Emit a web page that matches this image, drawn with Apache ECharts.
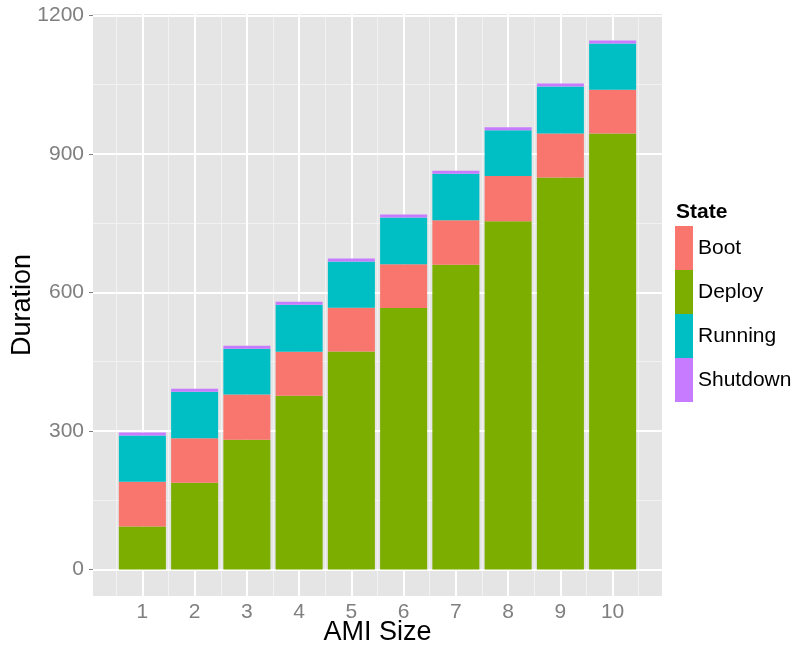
<!DOCTYPE html>
<html>
<head>
<meta charset="utf-8">
<script src="https://cdn.jsdelivr.net/npm/echarts@6/dist/echarts.min.js"></script>
<style>html,body{margin:0;padding:0;background:#fff;}#chart{width:795px;height:647px;}</style>
</head>
<body>
<div id="chart"></div>
<script>
// ---- data ----
var categories = [1, 2, 3, 4, 5, 6, 7, 8, 9, 10];
var deploy   = [93, 188, 281, 376.5, 472, 566, 660, 754, 849, 944];
var boot     = [97, 96, 98, 95, 95, 95, 96, 98, 95, 95];
var running  = [100, 101, 99, 102, 100, 101, 101, 99, 102, 100];
var shutdown = [6.5, 6.5, 6.5, 6.5, 6.5, 6.5, 6.5, 6.5, 6.5, 6.5];
var yTicks = [0, 300, 600, 900, 1200];
var yMinor = [150, 450, 750, 1050];
var xMinor = [0.5, 1.5, 2.5, 3.5, 4.5, 5.5, 6.5, 7.5, 8.5, 9.5, 10.5];
var legendOrder = ['Boot', 'Deploy', 'Running', 'Shutdown'];

// ---- build ----
var stackOrder = [
  {name: 'Deploy', values: deploy, color: '#7CAE00'},
  {name: 'Boot', values: boot, color: '#F8766D'},
  {name: 'Running', values: running, color: '#00BFC4'},
  {name: 'Shutdown', values: shutdown, color: '#C77CFF'}
];
var BAR_W = 0.9;
var cum = categories.map(function () { return 0; });
var series = stackOrder.map(function (s) {
  var data = categories.map(function (c, i) {
    var b = cum[i];
    cum[i] = b + s.values[i];
    return [c, b, cum[i]];
  });
  return {
    name: s.name,
    type: 'custom',
    z: 3,
    itemStyle: {color: s.color},
    encode: {x: 0, y: [1, 2]},
    data: data,
    renderItem: function (params, api) {
      var x = api.value(0), y0 = api.value(1), y1 = api.value(2);
      var p0 = api.coord([x - BAR_W / 2, y1]);
      var p1 = api.coord([x + BAR_W / 2, y0]);
      return {
        type: 'rect',
        shape: {x: p0[0], y: p0[1], width: p1[0] - p0[0], height: p1[1] - p0[1]},
        style: {fill: s.color}
      };
    }
  };
});

var maxTop = Math.max.apply(null, cum);
var yMin = -0.05 * maxTop, yMax = maxTop * 1.05;
var xMin = categories[0] - BAR_W / 2 - 0.05 * (categories.length - 1 + BAR_W);
var xMax = categories[categories.length - 1] + BAR_W / 2 + 0.05 * (categories.length - 1 + BAR_W);

var major = {color: '#ffffff', width: 2, type: 'solid'};
var minor = {color: '#F2F2F2', width: 1, type: 'solid'};
var gridData = []
  .concat(xMinor.map(function (v) { return {xAxis: v, lineStyle: minor}; }))
  .concat(yMinor.map(function (v) { return {yAxis: v, lineStyle: minor}; }))
  .concat(categories.map(function (v) { return {xAxis: v, lineStyle: major}; }))
  .concat(yTicks.map(function (v) { return {yAxis: v, lineStyle: major}; }));

series.push({
  name: 'grid',
  type: 'line',
  data: [],
  z: 1,
  markLine: {
    silent: true,
    z: 1,
    symbol: ['none', 'none'],
    label: {show: false},
    emphasis: {disabled: true},
    lineStyle: {type: 'solid'},
    animation: false,
    data: gridData
  }
});

var FONT = 'Liberation Sans, Arial, sans-serif';
var plain = function (v) { return String(v); };
var chart = echarts.init(document.getElementById('chart'), null, {renderer: 'canvas'});
chart.setOption({
  animation: false,
  backgroundColor: '#ffffff',
  textStyle: {fontFamily: FONT},
  title: {
    text: 'State', left: 676, top: 202, padding: 0,
    textStyle: {fontSize: 21, fontWeight: 'bold', color: '#000', fontFamily: FONT}
  },
  legend: {
    data: legendOrder,
    orient: 'vertical',
    left: 675, top: 226,
    padding: 0,
    itemWidth: 18, itemHeight: 44, itemGap: 0,
    icon: 'rect',
    selectedMode: false,
    textStyle: {fontSize: 21, color: '#000', fontFamily: FONT}
  },
  grid: {
    left: 93, right: 133, top: 14, bottom: 51,
    containLabel: false,
    outerBoundsMode: 'none',
    show: true, backgroundColor: '#E5E5E5', borderWidth: 0
  },
  xAxis: {
    type: 'value',
    min: xMin, max: xMax,
    name: 'AMI Size', nameLocation: 'middle', nameGap: 23, nameMoveOverlap: false,
    nameTextStyle: {fontSize: 27, color: '#000', fontFamily: FONT},
    axisLine: {show: false},
    axisTick: {show: true, length: 4, lineStyle: {color: '#7F7F7F', width: 1}, customValues: categories},
    axisLabel: {show: true, margin: 6, fontSize: 21, color: '#7F7F7F', fontFamily: FONT, customValues: categories, formatter: plain},
    splitLine: {show: false}
  },
  yAxis: {
    type: 'value',
    min: yMin, max: yMax,
    name: 'Duration', nameLocation: 'middle', nameGap: 57, nameMoveOverlap: false,
    nameTextStyle: {fontSize: 27, color: '#000', fontFamily: FONT},
    axisLine: {show: false},
    axisTick: {show: true, length: 4, lineStyle: {color: '#7F7F7F', width: 1}, customValues: yTicks},
    axisLabel: {show: true, margin: 9, fontSize: 21, color: '#7F7F7F', fontFamily: FONT, customValues: yTicks, formatter: plain},
    splitLine: {show: false}
  },
  series: series
});
</script>
</body>
</html>
